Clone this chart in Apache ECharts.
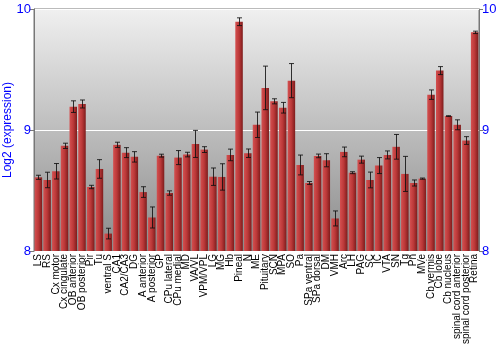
<!DOCTYPE html>
<html><head><meta charset="utf-8">
<script src="https://cdn.jsdelivr.net/npm/echarts@6/dist/echarts.min.js"></script>
<style>html,body{margin:0;padding:0;background:#fff}#c{width:500px;height:350px}</style>
</head><body><div id="c"></div>
<script>
const categories = ["LS","RS","Cx motor","Cx cingulate","OB anterior","OB posterior","Pir","Tu","ventral S","CA1","CA2/CA3","DG","A anterior","A posterior","GP","CPu lateral","CPu medial","MD","VA/VL","VPM/VPL","LG","MG","Hb","Pineal","N","ME","Pituitary","SCN","MPA","SO","Pa","SPa ventral","SPa dorsal","DM","VMH","Arc","LH","PAG","SC","IC","VTA","SN","Tg","Pn","MVe","Cb vermis","Cb lobe","Cb nucleus","spinal cord anterior","spinal cord posterior","Retina"];
const values = [8.609,8.587,8.659,8.869,9.193,9.215,8.529,8.678,8.144,8.877,8.813,8.778,8.487,8.277,8.788,8.479,8.772,8.797,8.885,8.838,8.614,8.612,8.794,9.895,8.808,9.043,9.348,9.237,9.184,9.408,8.711,8.562,8.786,8.750,8.269,8.819,8.647,8.755,8.587,8.706,8.794,8.861,8.637,8.562,8.598,9.292,9.491,9.115,9.043,8.913,9.807];
const errors = [0.017,0.064,0.064,0.022,0.048,0.033,0.014,0.077,0.044,0.022,0.041,0.043,0.044,0.087,0.012,0.018,0.058,0.019,0.112,0.024,0.072,0.109,0.048,0.032,0.035,0.105,0.180,0.021,0.044,0.141,0.082,0.012,0.015,0.054,0.062,0.040,0.008,0.029,0.065,0.066,0.033,0.102,0.145,0.025,0.005,0.039,0.033,0.003,0.041,0.032,0.010];
const yTicks = [8, 9, 10];

const chart = echarts.init(document.getElementById('c'), null, {renderer:'canvas'});
const errData = values.map((v,i)=>[i, v-errors[i], v+errors[i]]);
const font = "Liberation Sans";
chart.setOption({
  animation:false,
  grid:{left:34,right:21,top:9,bottom:99,show:true,borderColor:'#777',borderWidth:1,outerBoundsMode:'none',containLabel:false,
    backgroundColor:new echarts.graphic.LinearGradient(0,0,0,1,[{offset:0,color:'#f0f0f0'},{offset:1,color:'#8a8a8a'}])},
  xAxis:{type:'category',data:categories,
    axisLine:{show:false},axisTick:{show:false},
    axisLabel:{interval:0,rotate:90,fontSize:10,color:'#000',fontFamily:font,margin:3}},
  yAxis:[{type:'value',min:yTicks[0],max:yTicks[2],interval:1,position:'left',
    axisLine:{show:true,lineStyle:{color:'#777'}},axisTick:{show:true,length:4,lineStyle:{color:'#777'}},
    axisLabel:{color:'#0000ff',fontSize:13,fontFamily:font,margin:3},
    splitLine:{show:true,lineStyle:{color:'#ffffff',width:1}},
    name:'Log2 (expression)',nameLocation:'middle',nameGap:20,nameMoveOverlap:false,nameTextStyle:{color:'#0000ff',fontSize:12,fontFamily:font}},
   {type:'value',min:yTicks[0],max:yTicks[2],interval:1,position:'right',
    axisLine:{show:true,lineStyle:{color:'#777'}},axisTick:{show:true,length:4,lineStyle:{color:'#777'}},
    axisLabel:{color:'#0000ff',fontSize:13,fontFamily:font,margin:3},splitLine:{show:false}}],
  series:[{type:'bar',data:values,barCategoryGap:'14%',
    itemStyle:{color:new echarts.graphic.LinearGradient(0,0,1,0,[{offset:0,color:'#d45050'},{offset:0.5,color:'#bb3838'},{offset:1,color:'#7e1c1c'}])}},
   {type:'custom',data:errData,z:10,
    renderItem:function(params,api){
      const x=api.coord([api.value(0),api.value(1)]);
      const hi=api.coord([api.value(0),api.value(2)]);
      const cx=Math.round(x[0])+0.5;
      const w=2.5;
      const st={stroke:'#111',lineWidth:1,opacity:0.85};
      return {type:'group',children:[
        {type:'line',shape:{x1:cx,y1:x[1],x2:cx,y2:hi[1]},style:st},
        {type:'line',shape:{x1:cx-w,y1:x[1],x2:cx+w,y2:x[1]},style:st},
        {type:'line',shape:{x1:cx-w,y1:hi[1],x2:cx+w,y2:hi[1]},style:st}]};
    }}]
});
</script></body></html>
